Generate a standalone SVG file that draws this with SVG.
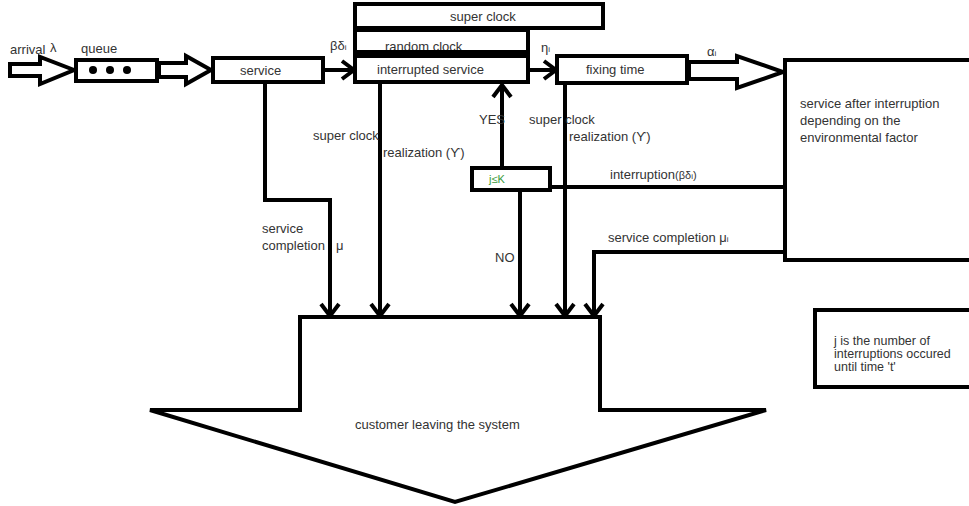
<svg xmlns="http://www.w3.org/2000/svg" width="969" height="506" viewBox="0 0 969 506">
<defs>
<marker id="ah" markerUnits="userSpaceOnUse" markerWidth="20" markerHeight="20" refX="0" refY="0" viewBox="-14 -10 16 20" orient="auto" overflow="visible">
<path d="M-12,-9 L0,0 L-12,9" fill="none" stroke="#000" stroke-width="4" stroke-linejoin="miter"/>
</marker>
</defs>
<style>
.box{fill:#fff;stroke:#000;stroke-width:4}
.ln{fill:none;stroke:#000;stroke-width:4}
.arr{fill:none;stroke:#000;stroke-width:4;marker-end:url(#ah)}
text{font-family:"Liberation Sans",Arial,sans-serif;font-size:13px;fill:#333}
.sm{font-size:12.5px}
</style>
<rect width="969" height="506" fill="#fff"/>

<g id="connectors">
<polyline class="arr" points="323,70 354,70"/>
<polyline class="arr" points="528,70 556,70"/>
<polyline class="arr" points="265,82 265,200 330,200 330,316"/>
<polyline class="arr" points="380,82 380,316"/>
<polyline class="arr" points="502,168 502,85"/>
<polyline class="arr" points="520,190 520,316"/>
<polyline class="arr" points="565,83 565,316"/>
<polyline class="ln" points="550,187 785,187"/>
<polyline class="arr" points="785,252 594,252 594,316"/>
</g>

<g id="arrival">
<polygon class="box" points="10,64 40,64 40,57 74,70 40,84 40,76 10,76"/>
<text x="10" y="54">arrival</text>
<text x="50" y="52" font-size="14">λ</text>
</g>

<g id="queue">
<rect class="box" x="76" y="60" width="81" height="21"/>
<text x="81" y="53">queue</text>
<circle cx="93" cy="70" r="4" fill="#000"/>
<circle cx="110" cy="70" r="4" fill="#000"/>
<circle cx="127" cy="70" r="4" fill="#000"/>
</g>

<g id="queue-arrow">
<polygon class="box" points="159,63 186,63 186,56 211,70 186,84 186,77 159,77"/>
</g>

<g id="service">
<rect class="box" x="213" y="58" width="110" height="24"/>
<text x="240" y="75">service</text>
</g>

<g id="super-clock">
<rect class="box" x="355" y="4" width="248" height="24"/>
<text x="450" y="21">super clock</text>
</g>

<g id="random-clock">
<rect class="box" x="355" y="30" width="173" height="24"/>
<text x="385" y="51">random clock</text>
<line x1="355" y1="53" x2="528" y2="53" stroke="#000" stroke-width="6"/>
</g>

<g id="interrupted-service">
<rect class="box" x="355" y="56" width="173" height="26"/>
<text x="377" y="74">interrupted service</text>
</g>

<g id="fixing-time">
<rect class="box" x="557" y="56" width="130" height="27"/>
<text x="586" y="74">fixing time</text>
</g>

<g id="fixing-arrow">
<polygon class="box" points="689,62 737,62 737,56 783,72 737,88 737,79 689,79"/>
</g>

<g id="service-after-interruption">
<rect class="box" x="785" y="60" width="190" height="200"/>
<text x="800" y="108">service after interruption</text>
<text x="800" y="125">depending on the</text>
<text x="800" y="142">environmental factor</text>
</g>

<g id="condition">
<rect class="box" x="472" y="168" width="78" height="22"/>
<text x="489" y="183" style="fill:#3a9a3a;font-size:11px">j≤K</text>
</g>

<g id="exit">
<polygon class="box" points="300,317 600,317 600,410 766,410 455,502 150,410 300,410"/>
<text x="355" y="429">customer leaving the system</text>
</g>

<g id="legend">
<rect class="box" x="815" y="310" width="160" height="77"/>
<text class="sm" x="834" y="345">j is the number of</text>
<text class="sm" x="834" y="358">interruptions occured</text>
<text class="sm" x="834" y="371">until time 't'</text>
</g>

<g id="labels">
<text x="330" y="50">βδ<tspan font-size="8">i</tspan></text>
<text x="541" y="52">η<tspan font-size="8">i</tspan></text>
<text x="707" y="56">α<tspan font-size="8">i</tspan></text>
<text x="313" y="140">super clock</text>
<text x="383" y="157">realization (ϒ)</text>
<text x="479" y="124">YES</text>
<text x="529" y="124">super clock</text>
<text x="569" y="141">realization  (ϒ)</text>
<text x="610" y="179">interruption<tspan font-size="11">(βδ</tspan><tspan font-size="8">i</tspan><tspan font-size="11">)</tspan></text>
<text x="262" y="233">service</text>
<text x="262" y="250">completion<tspan x="336">μ</tspan></text>
<text x="608" y="242">service completion  μ<tspan font-size="8">i</tspan></text>
<text x="495" y="262">NO</text>
</g>
</svg>
